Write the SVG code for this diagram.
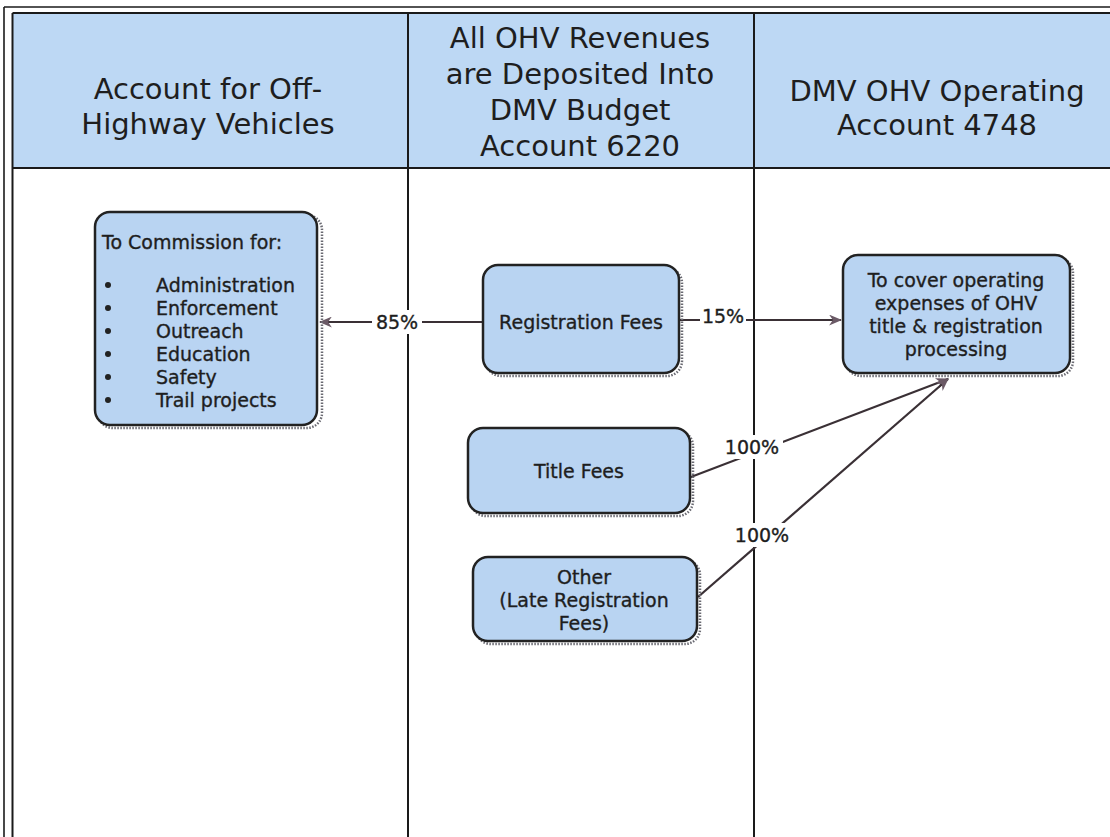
<svg xmlns="http://www.w3.org/2000/svg" width="1110" height="837" viewBox="0 0 1110 837">
<style>
  .frame { fill: none; stroke: #1a1a1a; }
  .hdr { fill: #bdd8f4; }
  .htxt { font-family: "DejaVu Sans", "Open Sans", sans-serif; font-size: 29px; fill: #1e1e1e; text-anchor: middle; }
  .node { fill: #b9d4f2; stroke: #222; stroke-width: 2.5; }
  .shadow { fill: none; stroke: #6a6a72; stroke-width: 2.5; stroke-dasharray: 1.5 1.5; }
  .ntxt { font-family: "DejaVu Sans", "Open Sans", sans-serif; font-size: 19px; fill: #1e1e1e; stroke: #1e1e1e; stroke-width: 0.35; }
  .c { text-anchor: middle; }
  .edge { fill: none; stroke: #3a3035; stroke-width: 2.2; }
  .lbl { font-family: "DejaVu Sans", "Open Sans", sans-serif; font-size: 19px; fill: #1e1e1e; stroke: #1e1e1e; stroke-width: 0.35; text-anchor: middle; }
  .lblbg { fill: #ffffff; }
</style>
<defs>
  <marker id="arr" viewBox="0 0 12 10" refX="11" refY="5" markerWidth="13" markerHeight="11" markerUnits="userSpaceOnUse" orient="auto">
    <path d="M0,0 L12,5 L0,10 L3.5,5 Z" fill="#6b5a66"/>
  </marker>
</defs>
<rect width="1110" height="837" fill="#ffffff"/>

<g id="table">
  <rect class="hdr" x="12.5" y="13" width="1098" height="155"/>
  <line class="frame" x1="4" y1="7" x2="1110" y2="7" stroke-width="1.6"/>
  <line class="frame" x1="4" y1="7" x2="4" y2="837" stroke-width="1.6"/>
  <line class="frame" x1="12.5" y1="13" x2="1110" y2="13" stroke-width="2"/>
  <line class="frame" x1="12.5" y1="13" x2="12.5" y2="837" stroke-width="2"/>
  <line class="frame" x1="12.5" y1="168" x2="1110" y2="168" stroke-width="2.2"/>
  <line class="frame" x1="408" y1="13" x2="408" y2="837" stroke-width="2"/>
  <line class="frame" x1="754" y1="13" x2="754" y2="837" stroke-width="2"/>
  <text class="htxt" x="208" y="99">Account for Off-<tspan x="208" dy="35">Highway Vehicles</tspan></text>
  <text class="htxt" x="580" y="48">All OHV Revenues<tspan x="580" dy="36">are Deposited Into</tspan><tspan x="580" dy="36">DMV Budget</tspan><tspan x="580" dy="36">Account 6220</tspan></text>
  <text class="htxt" x="937" y="101">DMV OHV Operating<tspan x="937" dy="34">Account 4748</tspan></text>
</g>

<g id="connectors">
  <line class="edge" x1="483" y1="322" x2="320" y2="322" marker-end="url(#arr)"/>
  <line class="edge" x1="679" y1="320" x2="841" y2="320" marker-end="url(#arr)"/>
  <line class="edge" x1="683" y1="480" x2="948" y2="379" marker-end="url(#arr)"/>
  <line class="edge" x1="698" y1="597" x2="948" y2="379" marker-end="url(#arr)"/>
  <rect class="lblbg" x="372" y="310" width="50" height="24"/>
  <text class="lbl" x="397" y="329">85%</text>
  <rect class="lblbg" x="700" y="304" width="46" height="24"/>
  <text class="lbl" x="723" y="323">15%</text>
  <rect class="lblbg" x="721" y="435" width="62" height="24"/>
  <text class="lbl" x="752" y="454">100%</text>
  <rect class="lblbg" x="731" y="523" width="62" height="24"/>
  <text class="lbl" x="762" y="542">100%</text>
</g>

<g id="node-commission">
  <rect class="shadow" x="98" y="215" width="224" height="213" rx="15"/>
  <rect class="node" x="95" y="212" width="222" height="213" rx="15"/>
  <g>
    <circle cx="108" cy="285" r="3" fill="#222"/>
    <circle cx="108" cy="308" r="3" fill="#222"/>
    <circle cx="108" cy="331" r="3" fill="#222"/>
    <circle cx="108" cy="354" r="3" fill="#222"/>
    <circle cx="108" cy="377" r="3" fill="#222"/>
    <circle cx="108" cy="400" r="3" fill="#222"/>
  </g>
  <text class="ntxt" x="102" y="249">To Commission for:<tspan x="156" y="292">Administration</tspan><tspan x="156" y="315">Enforcement</tspan><tspan x="156" y="338">Outreach</tspan><tspan x="156" y="361">Education</tspan><tspan x="156" y="384">Safety</tspan><tspan x="156" y="407">Trail projects</tspan></text>
</g>

<g id="node-registration">
  <rect class="shadow" x="486" y="268" width="196" height="108" rx="15"/>
  <rect class="node" x="483" y="265" width="196" height="108" rx="15"/>
  <text class="ntxt c" x="581" y="329">Registration Fees</text>
</g>

<g id="node-operating">
  <rect class="shadow" x="846" y="258" width="227" height="118" rx="15"/>
  <rect class="node" x="843" y="255" width="227" height="118" rx="15"/>
  <text class="ntxt c" x="956" y="287">To cover operating<tspan x="956" dy="23">expenses of OHV</tspan><tspan x="956" dy="23">title &amp; registration</tspan><tspan x="956" dy="23">processing</tspan></text>
</g>

<g id="node-title">
  <rect class="shadow" x="471" y="431" width="222" height="85" rx="15"/>
  <rect class="node" x="468" y="428" width="222" height="85" rx="15"/>
  <text class="ntxt c" x="579" y="478">Title Fees</text>
</g>

<g id="node-other">
  <rect class="shadow" x="476" y="560" width="224" height="84" rx="15"/>
  <rect class="node" x="473" y="557" width="224" height="84" rx="15"/>
  <text class="ntxt c" x="584" y="584">Other<tspan x="584" dy="23">(Late Registration</tspan><tspan x="584" dy="23">Fees)</tspan></text>
</g>
</svg>
